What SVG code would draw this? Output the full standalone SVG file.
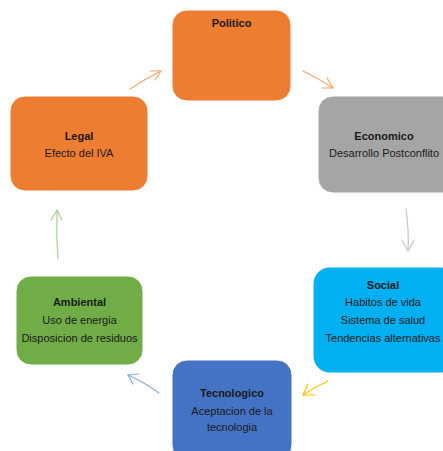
<svg xmlns="http://www.w3.org/2000/svg" width="443" height="451" viewBox="0 0 443 451">
<style>
.n{stroke:#fff;stroke-width:1}
.t{font-family:"Liberation Sans",Arial,sans-serif;font-size:11px;fill:#1a1a1a;text-anchor:middle}
.b{font-weight:bold}
.c{fill:none;stroke-width:1.2;stroke-linecap:round;stroke-linejoin:round}
</style>
<rect width="443" height="451" fill="#fff"/>
<g id="connectors">
<g id="c-legal-politico" class="c" stroke="#F4A46E"><path d="M130,89 Q145,79 161,71"/><path d="M150,71 L161,71 L155,80"/></g>
<g id="c-politico-economico" class="c" stroke="#F4A46E"><path d="M303,71 Q318,78 333,88"/><path d="M327,78 L333,88 L322,88"/></g>
<g id="c-economico-social" class="c" stroke="#C6C6C6"><path d="M406,209 Q409,230 408,251"/><path d="M402,240 L408,251 L414,240"/></g>
<g id="c-social-tecnologico" class="c" stroke="#FFC000"><path d="M328,381 Q315,387 303,395"/><path d="M308,384 L303,395 L315,395"/></g>
<g id="c-tecnologico-ambiental" class="c" stroke="#8FAADC"><path d="M159,393 Q144,382 128,375"/><path d="M133,384 L128,375 L139,374"/></g>
<g id="c-ambiental-legal" class="c" stroke="#A9D18E"><path d="M58,259 Q56,235 57,211"/><path d="M51,220 L57,210 L62,220"/></g>
</g>
<g id="politico"><rect class="n" x="172" y="10" width="119" height="91" rx="15" fill="#ED7D31"/><text class="t b" x="231.5" y="27">Politico</text></g>
<g id="legal"><rect class="n" x="10" y="96" width="138" height="95" rx="15" fill="#ED7D31"/><text class="t b" x="79" y="140">Legal</text><text class="t" x="79" y="157">Efecto del IVA</text></g>
<g id="economico"><rect class="n" x="318" y="96" width="140" height="97" rx="15" fill="#A5A5A5"/><text class="t b" x="384" y="140">Economico</text><text class="t" x="384" y="157">Desarrollo Postconflito</text></g>
<g id="social"><rect class="n" x="313" y="267" width="145" height="106" rx="17" fill="#00B0F0"/><text class="t b" x="383" y="289">Social</text><text class="t" x="383" y="306">Habitos de vida</text><text class="t" x="383" y="324">Sistema de salud</text><text class="t" x="383" y="342">Tendencias alternativas</text></g>
<g id="ambiental"><rect class="n" x="16" y="276" width="127" height="89" rx="15" fill="#70AD47"/><text class="t b" x="79.5" y="306">Ambiental</text><text class="t" x="79.5" y="324">Uso de energia</text><text class="t" x="79.5" y="342">Disposicion de residuos</text></g>
<g id="tecnologico"><rect class="n" x="172" y="360" width="120" height="100" rx="15" fill="#4472C4"/><text class="t b" x="232" y="397">Tecnologico</text><text class="t" x="232" y="415">Aceptacion de la</text><text class="t" x="232" y="431">tecnologia</text></g>
</svg>
